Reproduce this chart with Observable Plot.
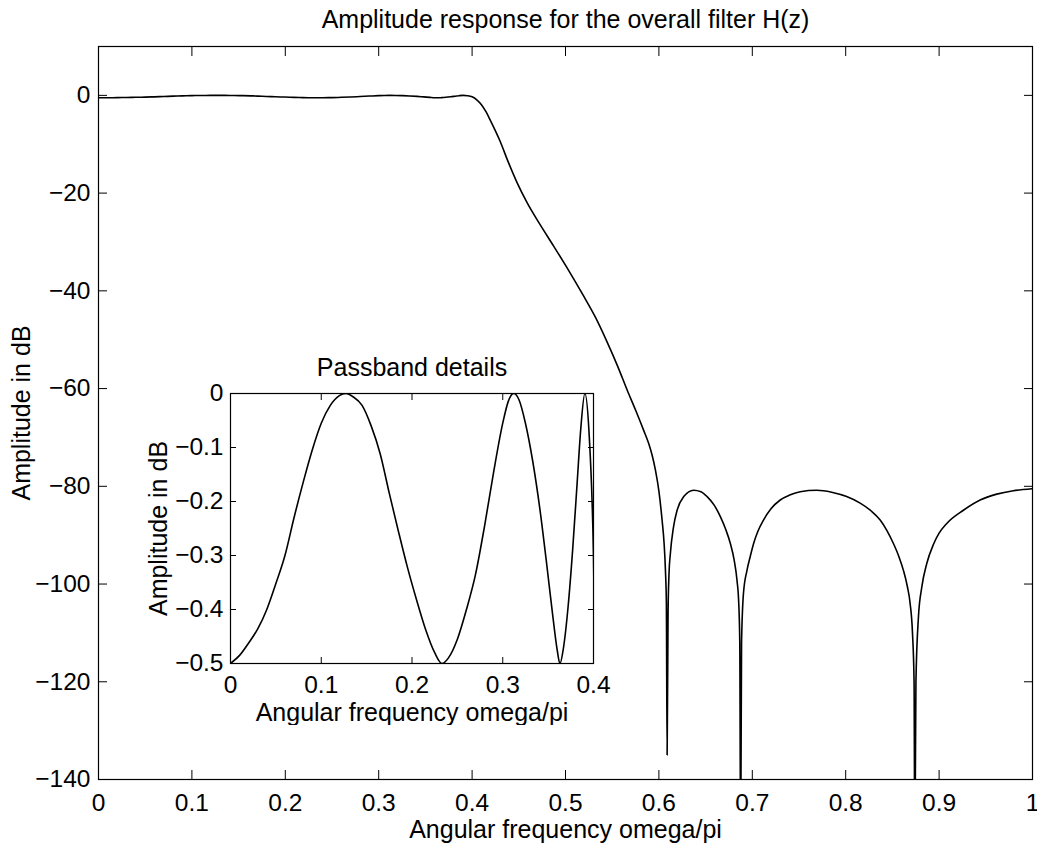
<!DOCTYPE html>
<html><head><meta charset="utf-8">
<script src="https://cdn.jsdelivr.net/npm/d3@7"></script>
<script src="https://cdn.jsdelivr.net/npm/@observablehq/plot@0.6"></script>
<style>
html,body{margin:0;padding:0;background:#fff;}
#wrap{position:relative;width:1037px;height:846px;}
#inset{position:absolute;left:140px;top:345px;}
</style></head><body><div id="wrap"><div id="main"></div><div id="inset"></div></div>
<script>
// Passband (omega/pi, dB)
const passFreq = [0.000,0.010,0.020,0.030,0.040,0.050,0.060,0.070,0.080,0.090,0.100,0.110,0.120,0.127,
  0.135,0.145,0.155,0.165,0.175,0.185,0.195,0.205,0.215,0.225,0.233,
  0.240,0.250,0.260,0.270,0.280,0.290,0.300,0.306,0.312,
  0.318,0.325,0.333,0.341,0.348,0.355,0.360,0.363,
  0.367,0.372,0.377,0.382,0.386,0.3905];
const passAmp = [-0.500,-0.485,-0.462,-0.436,-0.400,-0.352,-0.300,-0.230,-0.165,-0.105,-0.055,-0.022,-0.004,0.000,
  -0.006,-0.022,-0.060,-0.112,-0.185,-0.255,-0.322,-0.382,-0.437,-0.480,-0.500,
  -0.490,-0.455,-0.400,-0.335,-0.245,-0.145,-0.055,-0.015,0.000,
  -0.012,-0.055,-0.125,-0.215,-0.310,-0.410,-0.475,-0.500,
  -0.470,-0.395,-0.290,-0.165,-0.065,0.000];
// Transition band and stopband (omega/pi, dB)
const stopFreq = [0.395,0.400,0.405,0.410,0.415,0.420,0.430,0.438,0.448,0.459,0.473,0.4875,0.503,0.5195,0.532,0.5446,0.556,0.566,0.575,0.5838,0.589,0.5927,
  0.5963,0.600,0.6034,0.6055,0.607,0.608,0.6088,0.6098,0.6108,0.6123,0.6155,0.6195,0.6266,0.6372,0.645,0.6516,0.659,0.6658,0.6715,0.6765,0.6805,0.6836,0.6855,0.6866,0.6875,0.6885,0.6905,0.6943,0.698,0.7014,0.706,0.712,0.720,0.7299,0.740,0.7513,0.769,0.785,0.801,0.815,0.827,0.8369,0.844,0.8511,0.857,0.8618,0.866,0.869,0.8715,0.8732,0.874,0.8752,0.8779,0.8815,0.8868,0.8939,0.900,0.9082,0.926,0.9439,0.9617,0.9795,1.000];
const stopAmp = [-0.07,-0.3,-0.9,-1.9,-3.4,-5.3,-9.4,-13.3,-17.8,-22.0,-26.5,-30.9,-35.7,-41.1,-45.4,-50.5,-55.5,-60.3,-64.4,-68.6,-71.2,-73.6,
  -76.7,-81.0,-86.9,-91.5,-97.2,-104,-135,-106,-98,-93.7,-88.5,-84.9,-82.1,-80.8,-81.1,-82.1,-83.8,-86.2,-88.8,-91.7,-95.0,-99.2,-104,-112,-155,-112,-102,-97.2,-94.2,-91.7,-89.2,-86.9,-84.6,-82.8,-81.8,-81.1,-80.8,-81.2,-82.1,-83.4,-85.0,-86.9,-89.0,-91.7,-94.4,-97.2,-100.5,-104,-110,-120,-155,-120,-106.7,-100.6,-95.8,-91.9,-89.6,-87.6,-84.9,-82.8,-81.6,-80.9,-80.5];

const mainXTicks = [0,0.1,0.2,0.3,0.4,0.5,0.6,0.7,0.8,0.9,1];
const mainYTicks = [-140,-120,-100,-80,-60,-40,-20,0];
const insetXTicks = [0,0.1,0.2,0.3,0.4];
const insetYTicks = [-0.5,-0.4,-0.3,-0.2,-0.1,0];

const mainTitle = "Amplitude response for the overall filter H(z)";
const insetTitle = "Passband details";
const xLabel = "Angular frequency omega/pi";
const yLabel = "Amplitude in dB";

const freq = passFreq.concat(stopFreq);
const amp = passAmp.concat(stopAmp);
const data = freq.map((f, i) => ({f, a: amp[i]}));

const fmt = d => d < 0 ? "\u2212" + String(Math.abs(d)) : String(d);
const FONT = "'Liberation Sans', Arial, Helvetica, sans-serif";
const TICKFS = 24.5, LABFS = 25;

const main = Plot.plot({
  width: 1037, height: 846,
  marginTop: 46, marginBottom: 67, marginLeft: 98, marginRight: 5,
  style: {fontFamily: FONT, fontSize: "24px", background: "transparent", color: "#000"},
  x: {domain: [0, 1], label: null},
  y: {domain: [-140, 10], label: null},
  marks: [
    Plot.axisX(mainXTicks, {anchor: "bottom", tickSize: -9, tickPadding: 23, tickFormat: fmt, label: null, fontSize: TICKFS}),
    Plot.axisX(mainXTicks, {anchor: "top", tickSize: -9, fill: "none", label: null}),
    Plot.axisY(mainYTicks, {anchor: "left", tickSize: -9, tickPadding: 17, tickFormat: fmt, label: null, fontSize: TICKFS}),
    Plot.axisY(mainYTicks, {anchor: "right", tickSize: -9, fill: "none", label: null}),
    Plot.frame({stroke: "#000", strokeWidth: 1.2}),
    Plot.line(data, {x: "f", y: "a", stroke: "#000", strokeWidth: 1.6, clip: true, curve: "monotone-x"}),
    Plot.text([mainTitle], {text: d => d, frameAnchor: "top", textAnchor: "middle", lineAnchor: "bottom", dy: -19, fontSize: LABFS}),
    Plot.text([xLabel], {text: d => d, frameAnchor: "bottom", textAnchor: "middle", lineAnchor: "bottom", dy: 58, fontSize: LABFS}),
    Plot.text([yLabel], {text: d => d, frameAnchor: "left", textAnchor: "middle", rotate: -90, lineAnchor: "bottom", dx: -69, fontSize: LABFS})
  ]
});
document.getElementById("main").append(main);

const inset = Plot.plot({
  width: 480, height: 380,
  marginTop: 48, marginBottom: 62, marginLeft: 90, marginRight: 27,
  style: {fontFamily: FONT, fontSize: "24px", background: "transparent", color: "#000"},
  x: {domain: [0, 0.4], label: null},
  y: {domain: [-0.5, 0], label: null},
  marks: [
    Plot.axisX(insetXTicks, {anchor: "bottom", tickSize: -6, tickPadding: 18, tickFormat: fmt, label: null, fontSize: TICKFS}),
    Plot.axisX(insetXTicks, {anchor: "top", tickSize: -6, fill: "none", label: null}),
    Plot.axisY(insetYTicks, {anchor: "left", tickSize: -6, tickPadding: 13, tickFormat: fmt, label: null, fontSize: TICKFS}),
    Plot.axisY(insetYTicks, {anchor: "right", tickSize: -6, fill: "none", label: null}),
    Plot.frame({stroke: "#000", strokeWidth: 1.2}),
    Plot.line(data, {x: "f", y: "a", stroke: "#000", strokeWidth: 1.6, clip: true, curve: "monotone-x"}),
    Plot.text([insetTitle], {text: d => d, frameAnchor: "top", textAnchor: "middle", lineAnchor: "bottom", dy: -18, fontSize: LABFS}),
    Plot.text([xLabel], {text: d => d, frameAnchor: "bottom", textAnchor: "middle", lineAnchor: "bottom", dy: 57, fontSize: LABFS}),
    Plot.text([yLabel], {text: d => d, frameAnchor: "left", textAnchor: "middle", rotate: -90, lineAnchor: "bottom", dx: -64, fontSize: LABFS})
  ]
});
document.getElementById("inset").append(inset);
</script></body></html>
